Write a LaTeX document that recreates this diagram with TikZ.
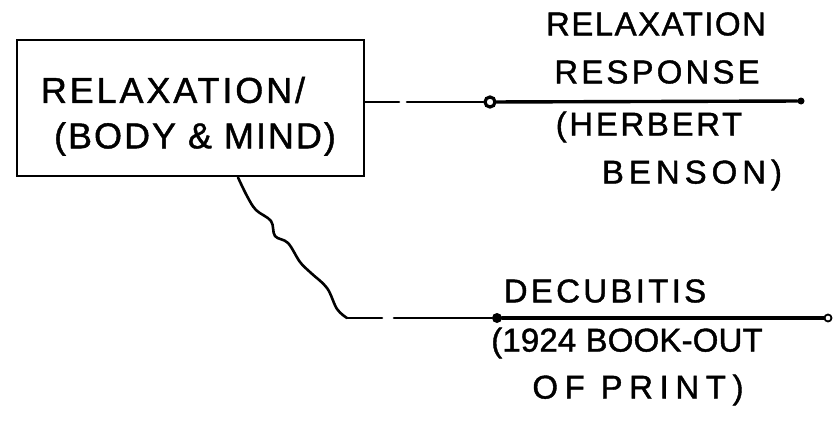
\documentclass[tikz,border=0pt]{standalone}
\usepackage{fontspec}
\setmainfont{Liberation Sans}[FakeBold=1.2]
\begin{document}
\begin{tikzpicture}[x=1pt,y=-1pt,
  ink/.style={line width=2.6pt,line cap=round,line join=round},
  inkheavy/.style={line width=3.4pt,line cap=round},
  lbl/.style={inner sep=0pt,anchor=center,font=\fontsize{33}{33}\selectfont},
  boxlbl/.style={inner sep=0pt,anchor=center,font=\fontsize{36}{36}\selectfont},
  dotnode/.style={circle,fill=black,inner sep=0pt,minimum size=#1}]
\useasboundingbox (0,0) rectangle (833,423);
% main box
\node[draw,line width=2.8pt,minimum width=347pt,minimum height=136pt,inner sep=0pt]
  (box) at (190.5,108) {};
\node[boxlbl] (b1) at (173,90) {\addfontfeatures{LetterSpace=8}RELAXATION/};
\node[boxlbl] (b2) at (195,139) {\addfontfeatures{LetterSpace=5.5}(BODY \& MIND)};
% upper branch
\node[circle,draw,fill=white,line width=3.2pt,inner sep=0pt,minimum size=10pt] (j1) at (490,102) {};
\node[dotnode=7pt] (e1) at (801,101) {};
\coordinate (g1) at (399,102);
\coordinate (g2) at (407,102);
\draw[ink] (box.east |- j1) -- (g1);
\draw[ink] (g2) -- (j1);
\draw[inkheavy] (j1) -- (e1);
\node[lbl] (t1) at (656,24) {\addfontfeatures{LetterSpace=4.5}RELAXATION};
\node[lbl] (t2) at (657,72) {\addfontfeatures{LetterSpace=9.5}RESPONSE};
\node[lbl] (t3) at (649,127) {\addfontfeatures{LetterSpace=8}(HERBERT};
\node[lbl] (t4) at (692,175) {\addfontfeatures{LetterSpace=15}BENSON)};
% lower branch
\coordinate (w0) at (box.south -| 238,0);
\coordinate (w1) at (347,318);
\coordinate (g3) at (382,318);
\coordinate (g4) at (394,318);
\node[dotnode=10pt] (j2) at (497,318) {};
\node[circle,draw,fill=white,line width=1.8pt,inner sep=0pt,minimum size=7pt] (e2) at (828,318) {};
\draw[ink] plot[smooth,tension=0.6] coordinates {(w0) (247,196) (256,210) (271,221) (275,236) (288,243) (300,262) (311,273) (327,288) (337,309) (w1)};
\draw[ink] (w1) -- (g3);
\draw[ink] (g4) -- (j2);
\draw[inkheavy] (j2) -- (e2);
\node[lbl] (d1) at (605,291) {\addfontfeatures{LetterSpace=10}DECUBITIS};
\node[lbl] (d2) at (627,343) {\addfontfeatures{LetterSpace=0.5}(1924 BOOK-OUT};
\node[lbl] (d3) at (638,390) {\addfontfeatures{LetterSpace=20}OF PRINT)};
\end{tikzpicture}
\end{document}
